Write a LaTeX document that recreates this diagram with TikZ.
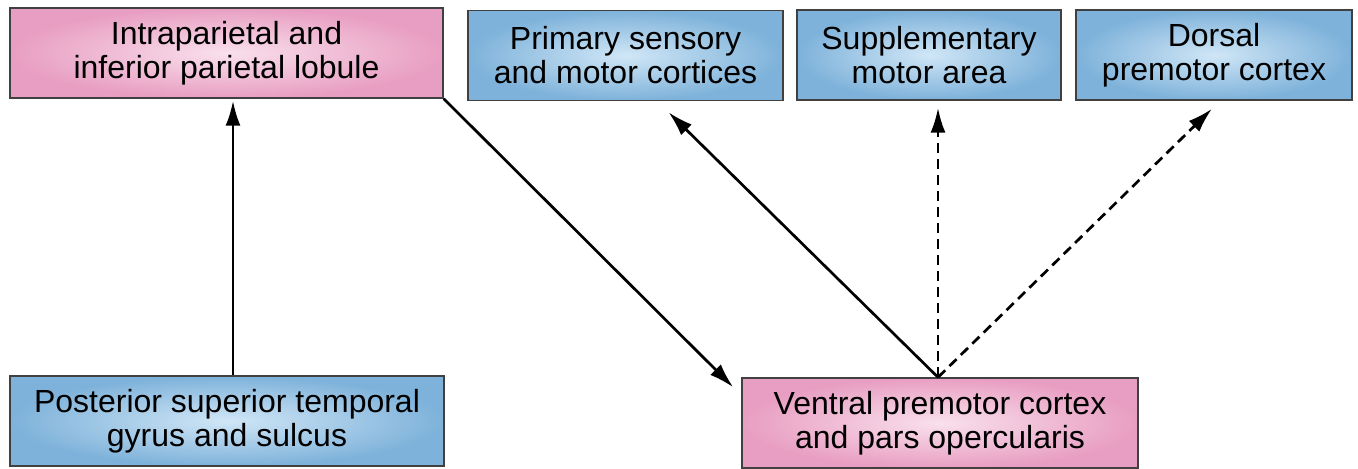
\documentclass[tikz,border=0pt]{standalone}
\usepackage{fontspec}
\setmainfont{Liberation Sans}
\usetikzlibrary{arrows.meta, positioning, calc}
\definecolor{cpinkout}{RGB}{232,158,194}
\definecolor{cpinkin}{RGB}{249,224,236}
\definecolor{cblueout}{RGB}{126,178,218}
\definecolor{cbluein}{RGB}{208,230,246}
\definecolor{cedge}{gray}{0.25}

\begin{document}
\begin{tikzpicture}[x=0.5pt, y=-0.5pt,
  area/.style={draw=cedge, line width=0.7pt, font=\fontsize{16}{17}\selectfont, align=center, minimum height=45pt, inner sep=0pt},
  pinkbox/.style={area, inner color=cpinkin, outer color=cpinkout},
  bluebox/.style={area, inner color=cbluein, outer color=cblueout},
  link/.style={line width=1.35pt, -{Latex[length=12.5pt, width=7.5pt]}},
  dlink/.style={link, dash pattern=on 5pt off 3pt}
]
\useasboundingbox (0,0) rectangle (1358,468);
\node[pinkbox, minimum width=216.5pt] (ipl) at (226.5,53) {Intraparietal and\\inferior parietal lobule};
\node[bluebox, minimum width=157.5pt] (prim) at (625.5,55.5) {Primary sensory\\and motor cortices};
\node[bluebox, minimum width=132pt] (sma) at (929,55) {Supplementary\\motor area};
\node[bluebox, minimum width=138pt] (dpm) at (1214,55) {Dorsal\\premotor cortex};
\node[bluebox, minimum width=217pt] (pst) at (227,421) {Posterior superior temporal\\gyrus and sulcus};
\node[pinkbox, minimum width=198pt] (vpm) at (940,423) {Ventral premotor cortex\\and pars opercularis};
\coordinate (vtop) at ($(vpm.north)+(-2,0)$);
\draw[link] ($(pst.north)+(6,0)$) -- ($(ipl.south)+(6.5,2)$);
\draw[link] (ipl.south east) -- ($(vpm.north west)+(-8,10)$);
\draw[link] (vtop) -- ($(prim.south)+(43,11)$);
\draw[dlink] (vtop) -- ($(sma.south)+(9,7)$);
\draw[dlink] (vtop) -- ($(dpm.south)+(-2,8)$);
\end{tikzpicture}
\end{document}
